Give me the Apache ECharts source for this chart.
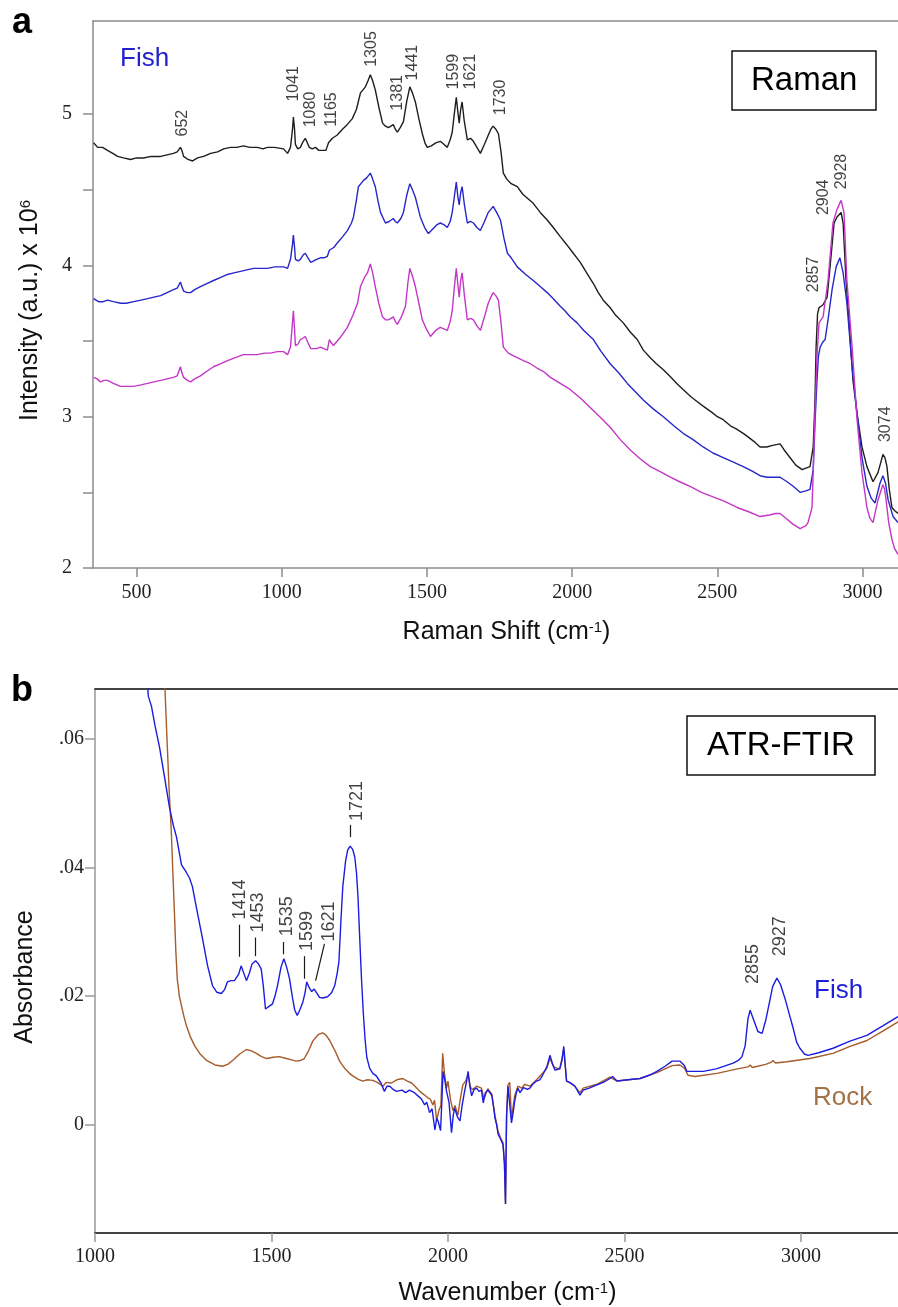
<!DOCTYPE html>
<html><head><meta charset="utf-8">
<script src="https://cdn.jsdelivr.net/npm/echarts@6/dist/echarts.min.js"></script>
<style>html,body{margin:0;padding:0;background:#fff}#c{width:898px;height:1307px}</style>
</head><body><div id="c"></div>
<script>
// ---------------- DATA ----------------
const ramanXTicks = [500, 1000, 1500, 2000, 2500, 3000];
const ramanYLabels = [2, 3, 4, 5];
const ramanYTicks = [2, 2.5, 3, 3.5, 4, 4.5, 5];
const ftirXTicks = [1000, 1500, 2000, 2500, 3000];
const ftirYTicks = [0, 0.02, 0.04, 0.06];

const ramanBlack = [[352,4.81],[366,4.78],[383,4.78],[400,4.76],[418,4.74],[435,4.72],[455,4.71],[479,4.70],[500,4.71],[524,4.71],[550,4.72],[583,4.72],[605,4.73],[627,4.74],[640,4.75],[651,4.78],[656,4.76],[662,4.72],[677,4.70],[693,4.69],[710,4.71],[731,4.72],[755,4.74],[779,4.75],[800,4.77],[823,4.78],[845,4.78],[868,4.79],[890,4.78],[916,4.78],[935,4.77],[951,4.78],[975,4.78],[1006,4.77],[1020,4.74],[1030,4.78],[1037,4.90],[1040,4.98],[1044,4.90],[1047,4.80],[1055,4.77],[1064,4.78],[1074,4.82],[1081,4.84],[1088,4.81],[1095,4.78],[1105,4.77],[1116,4.78],[1128,4.76],[1140,4.76],[1152,4.76],[1161,4.81],[1166,4.80],[1174,4.84],[1190,4.86],[1209,4.90],[1225,4.93],[1243,4.97],[1257,5.03],[1271,5.14],[1288,5.18],[1297,5.22],[1305,5.26],[1313,5.22],[1322,5.16],[1335,5.04],[1347,4.94],[1357,4.92],[1367,4.91],[1376,4.92],[1384,4.93],[1391,4.90],[1398,4.88],[1408,4.91],[1419,4.95],[1430,5.08],[1441,5.18],[1450,5.14],[1460,5.08],[1472,4.97],[1484,4.87],[1493,4.81],[1501,4.78],[1515,4.79],[1530,4.81],[1546,4.82],[1558,4.80],[1570,4.78],[1580,4.83],[1587,4.88],[1594,5.00],[1601,5.11],[1606,5.02],[1611,4.94],[1616,5.03],[1621,5.08],[1628,4.96],[1639,4.83],[1650,4.84],[1660,4.82],[1672,4.78],[1684,4.74],[1698,4.80],[1711,4.86],[1720,4.90],[1728,4.92],[1737,4.90],[1746,4.87],[1755,4.75],[1763,4.61],[1775,4.57],[1790,4.54],[1811,4.52],[1830,4.47],[1848,4.44],[1866,4.41],[1890,4.35],[1914,4.30],[1935,4.25],[1959,4.19],[1980,4.14],[2000,4.09],[2028,4.02],[2050,3.95],[2073,3.88],[2090,3.82],[2107,3.77],[2131,3.72],[2150,3.67],[2176,3.62],[2200,3.56],[2224,3.51],[2245,3.44],[2269,3.39],[2290,3.35],[2314,3.31],[2340,3.26],[2360,3.22],[2382,3.18],[2410,3.13],[2430,3.10],[2451,3.07],[2480,3.03],[2500,3.00],[2520,2.98],[2545,2.94],[2565,2.92],[2589,2.89],[2610,2.86],[2630,2.83],[2647,2.80],[2670,2.80],[2690,2.81],[2716,2.82],[2730,2.78],[2750,2.73],[2770,2.68],[2792,2.65],[2805,2.66],[2819,2.67],[2830,2.80],[2836,3.10],[2840,3.46],[2845,3.68],[2850,3.72],[2857,3.73],[2864,3.74],[2878,3.79],[2888,3.99],[2902,4.28],[2912,4.32],[2926,4.35],[2933,4.28],[2943,3.90],[2953,3.64],[2967,3.24],[2981,3.02],[2998,2.80],[3015,2.67],[3036,2.57],[3053,2.63],[3063,2.70],[3070,2.75],[3077,2.73],[3084,2.67],[3092,2.52],[3101,2.40],[3110,2.38],[3122,2.36]];

const ramanBlue = [[352,3.78],[369,3.76],[385,3.76],[400,3.77],[420,3.76],[445,3.75],[465,3.75],[490,3.76],[515,3.77],[538,3.78],[560,3.79],[583,3.80],[605,3.82],[627,3.84],[640,3.85],[651,3.89],[656,3.86],[662,3.83],[675,3.82],[686,3.82],[700,3.84],[720,3.86],[742,3.88],[765,3.90],[790,3.92],[813,3.94],[835,3.95],[858,3.96],[880,3.97],[903,3.98],[925,3.98],[951,3.98],[975,3.99],[1006,3.99],[1020,3.98],[1030,4.04],[1037,4.14],[1040,4.20],[1044,4.12],[1047,4.04],[1056,4.03],[1064,4.04],[1074,4.07],[1081,4.08],[1090,4.05],[1100,4.02],[1106,4.02],[1120,4.04],[1133,4.05],[1145,4.05],[1157,4.06],[1164,4.10],[1168,4.11],[1180,4.12],[1192,4.15],[1210,4.19],[1226,4.23],[1240,4.28],[1247,4.32],[1256,4.42],[1264,4.52],[1281,4.56],[1293,4.58],[1305,4.61],[1313,4.57],[1322,4.52],[1331,4.43],[1340,4.35],[1357,4.28],[1370,4.29],[1384,4.31],[1391,4.29],[1398,4.28],[1410,4.31],[1419,4.35],[1430,4.46],[1441,4.54],[1450,4.50],[1460,4.45],[1477,4.32],[1492,4.25],[1505,4.21],[1520,4.24],[1535,4.27],[1546,4.28],[1558,4.27],[1570,4.25],[1580,4.29],[1587,4.35],[1594,4.45],[1601,4.55],[1606,4.46],[1611,4.40],[1616,4.48],[1621,4.52],[1629,4.40],[1639,4.28],[1650,4.29],[1660,4.28],[1672,4.25],[1684,4.23],[1698,4.29],[1711,4.35],[1720,4.37],[1728,4.39],[1740,4.35],[1753,4.30],[1765,4.18],[1777,4.08],[1790,4.05],[1811,3.99],[1840,3.94],[1866,3.90],[1890,3.86],[1914,3.82],[1935,3.78],[1959,3.73],[1975,3.70],[1993,3.66],[2017,3.62],[2040,3.57],[2073,3.51],[2100,3.43],[2131,3.35],[2160,3.29],[2190,3.22],[2215,3.17],[2245,3.11],[2280,3.05],[2314,3.00],[2350,2.94],[2382,2.89],[2415,2.85],[2451,2.80],[2485,2.76],[2520,2.73],[2555,2.70],[2589,2.67],[2620,2.64],[2647,2.61],[2671,2.60],[2695,2.60],[2716,2.60],[2740,2.57],[2761,2.54],[2785,2.50],[2805,2.51],[2819,2.52],[2830,2.65],[2836,2.95],[2843,3.24],[2848,3.40],[2854,3.46],[2862,3.49],[2871,3.51],[2881,3.64],[2895,3.84],[2909,3.99],[2922,4.05],[2933,3.95],[2946,3.75],[2964,3.33],[2981,3.02],[2998,2.73],[3015,2.54],[3030,2.46],[3043,2.43],[3060,2.56],[3070,2.61],[3079,2.56],[3088,2.45],[3105,2.34],[3122,2.30]];

const ramanMagenta = [[352,3.26],[364,3.25],[376,3.23],[388,3.24],[400,3.24],[420,3.22],[445,3.20],[468,3.20],[490,3.20],[515,3.21],[538,3.22],[560,3.23],[583,3.24],[605,3.25],[627,3.26],[640,3.27],[651,3.33],[656,3.29],[662,3.26],[675,3.24],[686,3.23],[700,3.25],[720,3.27],[742,3.30],[765,3.33],[790,3.35],[813,3.37],[840,3.39],[868,3.41],[890,3.41],[916,3.41],[940,3.42],[961,3.42],[985,3.43],[1006,3.43],[1020,3.41],[1030,3.46],[1036,3.60],[1040,3.70],[1044,3.58],[1047,3.47],[1056,3.48],[1064,3.51],[1074,3.52],[1081,3.53],[1090,3.49],[1100,3.45],[1106,3.44],[1120,3.45],[1133,3.46],[1145,3.45],[1157,3.44],[1164,3.51],[1170,3.49],[1178,3.47],[1200,3.52],[1226,3.59],[1245,3.67],[1261,3.75],[1271,3.86],[1285,3.92],[1295,3.95],[1305,4.01],[1313,3.95],[1322,3.86],[1334,3.75],[1347,3.66],[1357,3.64],[1367,3.64],[1376,3.65],[1384,3.66],[1391,3.63],[1398,3.61],[1412,3.66],[1426,3.73],[1434,3.88],[1441,3.98],[1450,3.93],[1460,3.86],[1472,3.75],[1484,3.64],[1498,3.58],[1512,3.53],[1530,3.57],[1546,3.59],[1558,3.58],[1570,3.57],[1580,3.63],[1587,3.70],[1594,3.85],[1601,3.98],[1606,3.88],[1611,3.79],[1616,3.90],[1621,3.95],[1629,3.80],[1639,3.64],[1650,3.65],[1660,3.64],[1672,3.60],[1684,3.57],[1698,3.66],[1711,3.75],[1720,3.79],[1728,3.82],[1737,3.80],[1746,3.77],[1755,3.62],[1763,3.46],[1780,3.42],[1800,3.40],[1832,3.37],[1856,3.35],[1880,3.32],[1900,3.30],[1925,3.26],[1959,3.22],[1993,3.18],[2030,3.12],[2062,3.06],[2095,3.00],[2131,2.93],[2165,2.85],[2200,2.78],[2235,2.72],[2269,2.67],[2300,2.64],[2338,2.60],[2370,2.57],[2406,2.54],[2445,2.50],[2485,2.47],[2525,2.44],[2568,2.40],[2610,2.37],[2647,2.34],[2680,2.35],[2700,2.36],[2716,2.36],[2735,2.33],[2760,2.29],[2785,2.26],[2805,2.28],[2812,2.30],[2826,2.40],[2831,2.70],[2836,3.02],[2843,3.40],[2850,3.62],[2857,3.64],[2864,3.66],[2881,3.90],[2898,4.28],[2912,4.37],[2926,4.43],[2936,4.35],[2946,3.90],[2964,3.46],[2981,2.98],[2998,2.63],[3015,2.40],[3025,2.33],[3036,2.30],[3053,2.45],[3070,2.55],[3076,2.52],[3081,2.45],[3090,2.30],[3101,2.19],[3110,2.13],[3122,2.09]];

const ftirFish = [[1148,0.0690],[1151,0.0666],[1160,0.0650],[1170,0.0620],[1183,0.0586],[1197,0.0540],[1211,0.0493],[1222,0.0465],[1231,0.0447],[1245,0.0404],[1259,0.0392],[1268,0.0383],[1276,0.0370],[1283,0.0350],[1290,0.0330],[1305,0.0288],[1319,0.0247],[1333,0.0216],[1345,0.0206],[1358,0.0204],[1367,0.0210],[1375,0.0222],[1385,0.0224],[1395,0.0224],[1407,0.0234],[1414,0.0247],[1419,0.0245],[1429,0.0224],[1437,0.0235],[1445,0.0250],[1455,0.0255],[1463,0.0250],[1471,0.0242],[1477,0.0215],[1483,0.0180],[1493,0.0184],[1503,0.0188],[1510,0.0200],[1517,0.0216],[1527,0.0245],[1535,0.0258],[1543,0.0245],[1551,0.0227],[1560,0.0196],[1566,0.0178],[1573,0.0170],[1580,0.0178],[1589,0.0191],[1595,0.0205],[1600,0.0222],[1607,0.0213],[1614,0.0207],[1621,0.0211],[1628,0.0205],[1636,0.0198],[1645,0.0197],[1659,0.0199],[1670,0.0205],[1679,0.0216],[1686,0.0235],[1691,0.0253],[1697,0.0320],[1702,0.0370],[1710,0.0410],[1716,0.0427],[1723,0.0433],[1730,0.0428],[1736,0.0416],[1741,0.0390],[1745,0.0355],[1750,0.0290],[1755,0.0227],[1760,0.0175],[1765,0.0134],[1770,0.0105],[1778,0.0088],[1787,0.0080],[1797,0.0076],[1810,0.0065],[1820,0.0052],[1827,0.0060],[1835,0.0060],[1845,0.0055],[1854,0.0052],[1870,0.0054],[1880,0.0050],[1891,0.0054],[1905,0.0050],[1915,0.0045],[1925,0.0040],[1934,0.0031],[1940,0.0035],[1948,0.0019],[1955,0.0025],[1963,-0.0008],[1968,0.0010],[1972,0.0006],[1979,-0.0009],[1983,0.0040],[1986,0.0083],[1991,0.0070],[1996,0.0052],[2003,0.0035],[2010,-0.0012],[2015,0.0015],[2019,0.0026],[2027,0.0012],[2034,0.0006],[2040,0.0030],[2047,0.0052],[2052,0.0065],[2057,0.0083],[2062,0.0060],[2067,0.0045],[2074,0.0055],[2081,0.0057],[2088,0.0052],[2095,0.0054],[2100,0.0034],[2106,0.0050],[2113,0.0054],[2118,0.0052],[2124,0.0046],[2130,0.0025],[2133,0.0011],[2138,0.0000],[2142,-0.0015],[2149,-0.0022],[2156,-0.0031],[2160,-0.0060],[2163,-0.0123],[2166,0.0011],[2170,0.0060],[2175,0.0062],[2180,0.0003],[2185,0.0020],[2189,0.0037],[2194,0.0050],[2198,0.0057],[2204,0.0050],[2209,0.0052],[2214,0.0058],[2218,0.0060],[2225,0.0055],[2232,0.0057],[2240,0.0063],[2251,0.0068],[2260,0.0070],[2268,0.0077],[2280,0.0090],[2289,0.0108],[2296,0.0095],[2303,0.0085],[2310,0.0086],[2317,0.0088],[2323,0.0100],[2328,0.0122],[2332,0.0095],[2336,0.0068],[2345,0.0066],[2354,0.0062],[2360,0.0060],[2365,0.0057],[2370,0.0050],[2374,0.0046],[2383,0.0054],[2400,0.0057],[2422,0.0062],[2440,0.0066],[2459,0.0072],[2466,0.0075],[2479,0.0068],[2510,0.0070],[2544,0.0072],[2570,0.0077],[2592,0.0083],[2615,0.0091],[2635,0.0099],[2657,0.0099],[2670,0.0092],[2677,0.0083],[2700,0.0083],[2723,0.0083],[2760,0.0087],[2808,0.0096],[2825,0.0101],[2833,0.0106],[2842,0.0123],[2850,0.0165],[2856,0.0178],[2861,0.0176],[2868,0.0160],[2878,0.0145],[2890,0.0142],[2900,0.0162],[2907,0.0180],[2920,0.0215],[2932,0.0228],[2942,0.0218],[2955,0.0196],[2967,0.0172],[2978,0.0150],[2988,0.0128],[2997,0.0119],[3010,0.0110],[3020,0.0108],[3050,0.0112],[3091,0.0119],[3139,0.0130],[3187,0.0139],[3233,0.0154],[3275,0.0168]];

const ftirRock = [[1197,0.0700],[1199,0.0666],[1205,0.0586],[1210,0.0520],[1216,0.0458],[1220,0.0400],[1225,0.0330],[1229,0.0270],[1233,0.0227],[1239,0.0200],[1245,0.0185],[1252,0.0168],[1259,0.0154],[1270,0.0137],[1282,0.0123],[1298,0.0110],[1316,0.0100],[1340,0.0093],[1361,0.0091],[1376,0.0094],[1390,0.0100],[1410,0.0110],[1429,0.0117],[1443,0.0115],[1457,0.0111],[1472,0.0106],[1486,0.0103],[1505,0.0105],[1522,0.0106],[1542,0.0103],[1557,0.0101],[1570,0.0099],[1582,0.0100],[1593,0.0103],[1605,0.0115],[1617,0.0130],[1632,0.0140],[1645,0.0143],[1655,0.0139],[1665,0.0131],[1680,0.0115],[1693,0.0099],[1707,0.0088],[1721,0.0080],[1730,0.0076],[1745,0.0071],[1758,0.0068],[1772,0.0070],[1787,0.0069],[1800,0.0066],[1816,0.0060],[1825,0.0066],[1840,0.0065],[1855,0.0070],[1872,0.0072],[1885,0.0068],[1897,0.0065],[1910,0.0058],[1920,0.0052],[1932,0.0047],[1943,0.0042],[1950,0.0040],[1957,0.0031],[1962,0.0038],[1968,0.0006],[1974,0.0022],[1980,0.0030],[1985,0.0111],[1990,0.0080],[1996,0.0057],[2000,0.0068],[2007,0.0040],[2014,0.0022],[2020,0.0030],[2028,0.0015],[2035,0.0040],[2042,0.0062],[2050,0.0068],[2057,0.0078],[2064,0.0058],[2070,0.0055],[2081,0.0060],[2095,0.0057],[2102,0.0040],[2113,0.0056],[2124,0.0048],[2133,0.0015],[2142,-0.0010],[2149,-0.0020],[2156,-0.0028],[2160,-0.0060],[2163,-0.0123],[2166,0.0015],[2170,0.0062],[2175,0.0066],[2180,0.0010],[2189,0.0045],[2198,0.0060],[2209,0.0057],[2218,0.0063],[2232,0.0060],[2251,0.0070],[2268,0.0080],[2280,0.0088],[2289,0.0103],[2300,0.0090],[2317,0.0086],[2328,0.0118],[2336,0.0068],[2354,0.0063],[2374,0.0050],[2383,0.0057],[2422,0.0063],[2459,0.0074],[2479,0.0068],[2544,0.0072],[2592,0.0081],[2635,0.0092],[2657,0.0093],[2670,0.0088],[2680,0.0077],[2700,0.0075],[2762,0.0080],[2820,0.0087],[2850,0.0090],[2856,0.0093],[2862,0.0089],[2900,0.0094],[2915,0.0097],[2921,0.0100],[2928,0.0096],[2960,0.0098],[3025,0.0103],[3091,0.0111],[3139,0.0122],[3187,0.0131],[3233,0.0146],[3275,0.0160]];

const ramanPeaks = ['652','1041','1080','1165','1305','1381','1441','1599','1621','1730','2857','2904','2928','3074'];
const ftirPeaks = ['1414','1453','1535','1599','1621','1721','2855','2927'];

// ---------------- LAYOUT (annotation anchors in axis units) ----------------
const ramanPeakAnchor = [[658,4.94],[1040,5.20],[1099,5.03],[1171,5.03],[1309,5.43],[1398,5.14],[1450,5.34],[1591,5.28],[1649,5.28],[1753,5.11],[2833,3.94],[2867,4.45],[2929,4.62],[3081,2.95]];
const ftirPeakAnchor = [[1412,0.0350],[1463,0.0330],[1545,0.0324],[1602,0.0301],[1662,0.0316],[1741,0.0503],[2864,0.0250],[2941,0.0293]];
const ftirLeaders = [[[1409,0.0311],[1409,0.0261]],[[1455,0.0291],[1455,0.0262]],[[1534,0.0284],[1534,0.0265]],[[1594,0.0262],[1594,0.0227]],[[1650,0.0281],[1625,0.0224]],[[1724,0.0466],[1724,0.0447]]];

const SANS = 'Liberation Sans, Arial, sans-serif';
const SERIF = 'Liberation Serif, Times New Roman, serif';
const gA = '#8c8c8c';

function peakSeries(names, anchors, xi, yi, size) {
  return {
    type: 'scatter', xAxisIndex: xi, yAxisIndex: yi, silent: true, z: 5,
    symbolSize: 0,
    data: names.map((n, i) => ({ name: n, value: anchors[i] })),
    label: { show: true, position: 'inside', rotate: 90, formatter: p => p.name,
      fontFamily: SANS, fontSize: size, color: '#111' }
  };
}
const plain = v => String(v);

const chart = echarts.init(document.getElementById('c'), null, { renderer: 'canvas' });
chart.setOption({
  animation: false,
  backgroundColor: '#fff',
  title: [
    { text: 'a', left: 12, top: 3, padding: 0, textStyle: { fontFamily: SANS, fontSize: 36, fontWeight: 'bold', color: '#000', lineHeight: 40 } },
    { text: 'b', left: 11, top: 671, padding: 0, textStyle: { fontFamily: SANS, fontSize: 36, fontWeight: 'bold', color: '#000', lineHeight: 40 } },
    { text: 'Raman', left: 732, top: 51, padding: [12, 19, 12, 19], borderColor: '#111', borderWidth: 1.5,
      textStyle: { fontFamily: SANS, fontSize: 33, fontWeight: 'normal', color: '#000', lineHeight: 35 } },
    { text: 'ATR-FTIR', left: 687, top: 716, padding: [12, 20, 12, 20], borderColor: '#111', borderWidth: 1.5,
      textStyle: { fontFamily: SANS, fontSize: 33, fontWeight: 'normal', color: '#000', lineHeight: 35 } },
    { text: 'Fish', left: 120, top: 44, padding: 0, textStyle: { fontFamily: SANS, fontSize: 26, fontWeight: 'normal', color: '#2121cf', lineHeight: 30 } },
    { text: 'Fish', left: 814, top: 976, padding: 0, textStyle: { fontFamily: SANS, fontSize: 26, fontWeight: 'normal', color: '#1d1dd6', lineHeight: 30 } },
    { text: 'Rock', left: 813, top: 1083, padding: 0, textStyle: { fontFamily: SANS, fontSize: 26, fontWeight: 'normal', color: '#a37247', lineHeight: 30 } }
  ],
  grid: [
    { left: 93, top: 21, right: 0, height: 547 },
    { left: 95, top: 689, right: 0, height: 547 }
  ],
  xAxis: [
    { type: 'value', gridIndex: 0, min: 350, max: 3122,
      axisLine: { show: true, onZero: false, lineStyle: { color: gA, width: 1.5 } },
      axisTick: { show: true, customValues: ramanXTicks, length: 9, lineStyle: { color: gA, width: 1.5 } },
      axisLabel: { customValues: ramanXTicks, formatter: plain, margin: 15, fontFamily: SERIF, fontSize: 20, color: '#222' },
      splitLine: { show: false },
      name: 'Raman Shift (cm{sup|-1})', nameLocation: 'middle', nameGap: 52,
      nameTextStyle: { fontFamily: SANS, fontSize: 25, color: '#111', padding: [0, 0, 0, 22],
        rich: { sup: { fontFamily: SANS, fontSize: 15, verticalAlign: 'top', color: '#111' } } } },
    { type: 'value', gridIndex: 0, position: 'top', min: 350, max: 3122,
      axisLine: { show: true, onZero: false, lineStyle: { color: gA, width: 1.5 } },
      axisTick: { show: false }, axisLabel: { show: false }, splitLine: { show: false } },
    { type: 'value', gridIndex: 1, min: 1000, max: 3275,
      axisLine: { show: true, onZero: false, lineStyle: { color: '#444', width: 1.8 } },
      axisTick: { show: true, customValues: ftirXTicks, length: 9, lineStyle: { color: '#999', width: 1.5 } },
      axisLabel: { customValues: ftirXTicks, formatter: plain, margin: 14, fontFamily: SERIF, fontSize: 20, color: '#222' },
      splitLine: { show: false },
      name: 'Wavenumber (cm{sup|-1})', nameLocation: 'middle', nameGap: 48,
      nameTextStyle: { fontFamily: SANS, fontSize: 25, color: '#111', padding: [0, 0, 0, 22],
        rich: { sup: { fontFamily: SANS, fontSize: 15, verticalAlign: 'top', color: '#111' } } } },
    { type: 'value', gridIndex: 1, position: 'top', min: 1000, max: 3275,
      axisLine: { show: true, onZero: false, lineStyle: { color: '#444', width: 1.8 } },
      axisTick: { show: false }, axisLabel: { show: false }, splitLine: { show: false } }
  ],
  yAxis: [
    { type: 'value', gridIndex: 0, min: 2, max: 5.615,
      axisLine: { show: true, onZero: false, lineStyle: { color: gA, width: 1.5 } },
      axisTick: { show: true, customValues: ramanYTicks, length: 10, lineStyle: { color: gA, width: 1.5 } },
      axisLabel: { customValues: ramanYLabels, formatter: plain, margin: 21, fontFamily: SERIF, fontSize: 20, color: '#222' },
      splitLine: { show: false },
      name: 'Intensity (a.u.) x 10{sup|6}', nameLocation: 'middle', nameGap: 50,
      nameTextStyle: { fontFamily: SANS, fontSize: 25, color: '#111', padding: [0, 32, 0, 0],
        rich: { sup: { fontFamily: SANS, fontSize: 15, verticalAlign: 'top', color: '#111' } } } },
    { type: 'value', gridIndex: 1, min: -0.0168, max: 0.0677,
      axisLine: { show: true, onZero: false, lineStyle: { color: '#999', width: 1.5 } },
      axisTick: { show: true, customValues: ftirYTicks, length: 10, lineStyle: { color: '#999', width: 1.5 } },
      axisLabel: { customValues: ftirYTicks, margin: 11, fontFamily: SERIF, fontSize: 20, color: '#222',
        formatter: v => (Math.abs(v) < 1e-9 ? '0' : v.toFixed(2).replace(/^0\./, '.')) },
      splitLine: { show: false },
      name: 'Absorbance', nameLocation: 'middle', nameGap: 57,
      nameTextStyle: { fontFamily: SANS, fontSize: 25, color: '#111', padding: [0, 32, 0, 0] } }
  ],
  series: [
    { type: 'line', name: 'Raman 1', xAxisIndex: 0, yAxisIndex: 0, data: ramanBlack, showSymbol: false, clip: true,
      lineStyle: { color: '#1e1e1e', width: 1.4 } },
    { type: 'line', name: 'Raman 2', xAxisIndex: 0, yAxisIndex: 0, data: ramanBlue, showSymbol: false, clip: true,
      lineStyle: { color: '#2626c9', width: 1.4 } },
    { type: 'line', name: 'Raman 3', xAxisIndex: 0, yAxisIndex: 0, data: ramanMagenta, showSymbol: false, clip: true,
      lineStyle: { color: '#c437c6', width: 1.4 } },
    { type: 'line', name: 'Rock', xAxisIndex: 2, yAxisIndex: 1, data: ftirRock, showSymbol: false, clip: true,
      lineStyle: { color: '#a65b2a', width: 1.4 } },
    { type: 'line', name: 'Fish', xAxisIndex: 2, yAxisIndex: 1, data: ftirFish, showSymbol: false, clip: true,
      lineStyle: { color: '#1c1ce0', width: 1.4 },
      markLine: { silent: true, symbol: 'none', label: { show: false },
        lineStyle: { color: '#1a1a1a', width: 1.2, type: 'solid' },
        data: ftirLeaders.map(s => [{ coord: s[0] }, { coord: s[1] }]) } },
    peakSeries(ramanPeaks, ramanPeakAnchor, 0, 0, 16),
    peakSeries(ftirPeaks, ftirPeakAnchor, 2, 1, 18)
  ]
});
</script>
</body></html>
